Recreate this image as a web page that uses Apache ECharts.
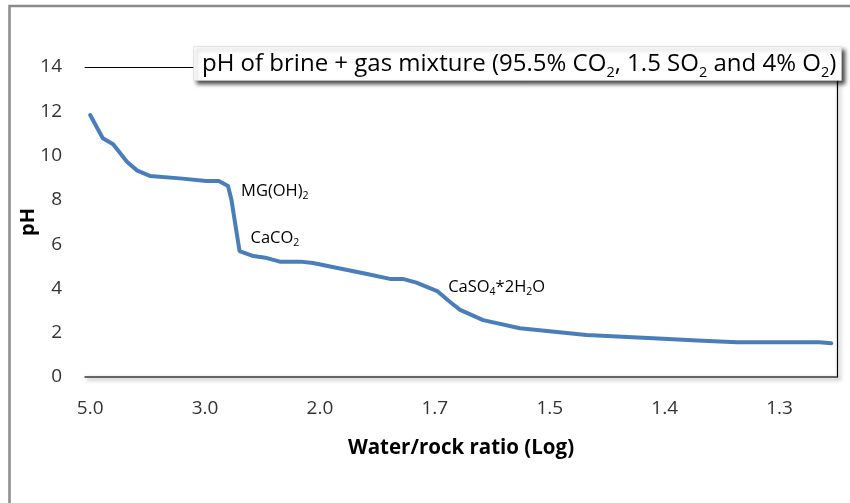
<!DOCTYPE html>
<html>
<head>
<meta charset="utf-8">
<script src="https://cdn.jsdelivr.net/npm/echarts@6/dist/echarts.min.js"></script>
<style>
  html, body { margin: 0; padding: 0; background: #fff; }
  #chart { width: 850px; height: 503px; }
</style>
</head>
<body>
<div id="chart"></div>
<script>
// ---- data ----
const xTickLabels = ["5.0", "3.0", "2.0", "1.7", "1.5", "1.4", "1.3"];
const yTicks = [0, 2, 4, 6, 8, 10, 12, 14];
// x position in tick-label units (0 = "5.0", 1 = "3.0", ...)
const xPos = [0.00, 0.11, 0.20, 0.32, 0.41, 0.52, 0.78, 1.01, 1.12, 1.20, 1.23, 1.30, 1.42, 1.54, 1.65, 1.83, 1.94, 2.11, 2.41, 2.61, 2.72, 2.84, 3.02, 3.13, 3.22, 3.42, 3.74, 4.32, 4.90, 5.33, 5.63, 5.91, 6.35, 6.45];
const phValues = [11.83, 10.78, 10.51, 9.72, 9.32, 9.08, 8.97, 8.85, 8.85, 8.63, 7.99, 5.69, 5.46, 5.37, 5.21, 5.21, 5.15, 4.97, 4.65, 4.43, 4.43, 4.26, 3.88, 3.40, 3.03, 2.57, 2.20, 1.90, 1.75, 1.64, 1.57, 1.57, 1.57, 1.52];
// annotations: text (rich) and the data index they are attached to
const annoTexts = ["{a|MG(OH)}{s|2}", "{a|CaCO}{s|2}", "{a|CaSO}{s|4}{a|*2H}{s|2}{a|O}"];
const annoIndex = [9, 11, 22];
const titleText = "{t|pH of brine + gas mixture (95.5% CO}{s|2}{t|, 1.5 SO}{s|2}{t| and 4% O}{s|2}{t|)}";
const xAxisName = "Water/rock ratio (Log)";
const yAxisName = "pH";

// ---- styling / layout ----
const FONT = "Open Sans";
const annoOffsets = [[2, 5], [0, -13], [0, -4]];
const seriesData = xPos.map((x, i) => [x, phValues[i]]);
const frameShadow = { shadowBlur: 4, shadowColor: "rgba(0,0,0,0.45)", shadowOffsetX: 2, shadowOffsetY: 2 };

const chart = echarts.init(document.getElementById("chart"), null, { renderer: "canvas" });
chart.setOption({
  animation: false,
  backgroundColor: "#fff",
  textStyle: { fontFamily: FONT },
  title: {
    text: titleText,
    left: 193, top: 43,
    padding: [6, 5, 1, 9],
    backgroundColor: "#fff",
    borderColor: "#d0d0d0",
    borderWidth: 0.5,
    shadowBlur: 4, shadowColor: "rgba(0,0,0,0.7)", shadowOffsetX: 3, shadowOffsetY: 3,
    textStyle: {
      fontWeight: "normal",
      rich: {
        t: { fontFamily: FONT, fontSize: 24, fontWeight: "normal", color: "#000", lineHeight: 31 },
        s: { fontFamily: FONT, fontSize: 14.5, fontWeight: "normal", color: "#000", lineHeight: 14, verticalAlign: "bottom" }
      }
    }
  },
  graphic: [
    {
      type: "polyline", silent: true, z: 100,
      shape: { points: [[9.5, 503], [9.5, 6], [850, 6]] },
      style: { stroke: "#8c8c8c", lineWidth: 2.5, fill: null }
    }
  ],
  grid: { left: 85, right: 13, top: 67, bottom: 126, containLabel: false },
  xAxis: [
    {
      type: "value", min: -0.045, max: 6.5, position: "bottom",
      axisLine: { show: true, onZero: false, lineStyle: Object.assign({ color: "#3a3a3a", width: 1.5 }, frameShadow) },
      axisTick: { show: false }, splitLine: { show: false },
      axisLabel: {
        customValues: xTickLabels.map((_, i) => i),
        formatter: v => xTickLabels[Math.round(v)] || "",
        color: "#333", fontSize: 19, fontFamily: FONT, margin: 22
      },
      name: xAxisName, nameLocation: "middle", nameGap: 61,
      nameTextStyle: { color: "#000", fontSize: 20.5, fontWeight: "bold", fontFamily: FONT }
    },
    {
      type: "value", min: -0.045, max: 6.5, position: "top",
      axisLine: { show: true, onZero: false, lineStyle: { color: "#000", width: 1 } },
      axisTick: { show: false }, axisLabel: { show: false }, splitLine: { show: false }
    }
  ],
  yAxis: [
    {
      type: "value", min: 0, max: 14, interval: 2, position: "left",
      axisLine: { show: false }, axisTick: { show: false }, splitLine: { show: false },
      axisLabel: {
        customValues: yTicks,
        color: "#333", fontSize: 19, fontFamily: FONT, margin: 23
      },
      name: yAxisName, nameLocation: "middle", nameGap: 47, nameMoveOverlap: false,
      nameTextStyle: { color: "#000", fontSize: 20, fontWeight: "bold", fontFamily: FONT }
    },
    {
      type: "value", min: 0, max: 14, interval: 2, position: "right",
      axisLine: { show: true, onZero: false, lineStyle: Object.assign({ color: "#000", width: 1.2 }, frameShadow) },
      axisTick: { show: false }, axisLabel: { show: false }, splitLine: { show: false }
    }
  ],
  series: [
    {
      type: "line",
      xAxisIndex: 0, yAxisIndex: 0,
      data: seriesData,
      showSymbol: false, symbol: "none",
      lineStyle: { color: "#4a7ebb", width: 4, join: "round", cap: "round" },
      markPoint: {
        symbol: "circle", symbolSize: 2,
        itemStyle: { color: "rgba(0,0,0,0)" },
        silent: true,
        data: annoIndex.map((idx, k) => ({
          coord: seriesData[idx],
          label: {
            show: true, position: "right", distance: 10,
            offset: annoOffsets[k],
            formatter: annoTexts[k],
            rich: {
              a: { fontFamily: FONT, fontSize: 16.5, color: "#000", lineHeight: 21 },
              s: { fontFamily: FONT, fontSize: 10.5, color: "#000", lineHeight: 10, verticalAlign: "bottom" }
            }
          }
        }))
      }
    }
  ]
});
</script>
</body>
</html>
